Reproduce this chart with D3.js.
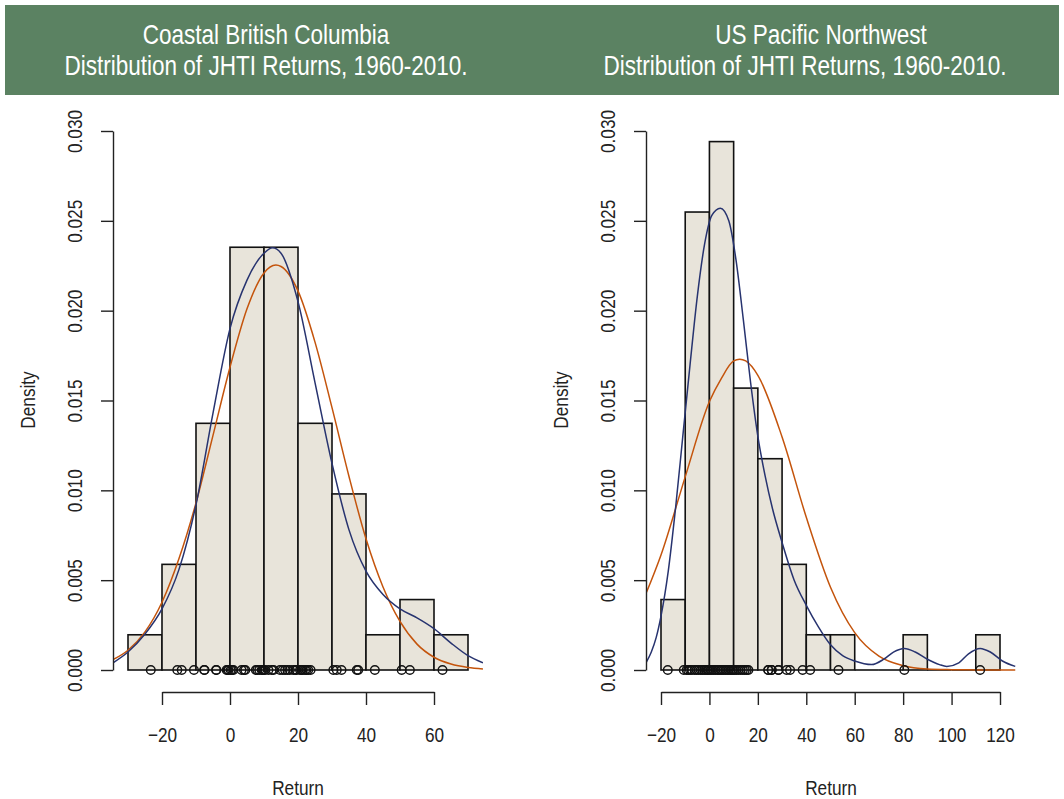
<!DOCTYPE html>
<html>
<head>
<meta charset="utf-8">
<script src="https://cdn.jsdelivr.net/npm/d3@7"></script>
<style>
  html, body { margin: 0; padding: 0; background: #ffffff; }
  svg { display: block; }
  text { font-family: "Liberation Sans", Arial, sans-serif; }
</style>
</head>
<body>
<svg id="chart" width="1064" height="799"></svg>
<script>
// ---------------- DATA ----------------
const titlesLeft = ["Coastal British Columbia", "Distribution of JHTI Returns, 1960-2010."];
const titlesRight = ["US Pacific Northwest", "Distribution of JHTI Returns, 1960-2010."];
const xLabel = "Return";
const yLabel = "Density";

const yTicks = [0, 0.005, 0.010, 0.015, 0.020, 0.025, 0.030];

// Coastal British Columbia
const bcTicks = [-20, 0, 20, 40, 60];
const bcBinEdges = [-30, -20, -10, 0, 10, 20, 30, 40, 50, 60, 70];
const bcDensity = [0.00196, 0.00588, 0.01373, 0.02353, 0.02353, 0.01373, 0.00980, 0.00196, 0.00392, 0.00196];
const bcReturns = [-23.3, -15.5, -14.2, -10.6, -7.6, -7.5, -4.1, -4.0, -1.0, -0.7, -0.4,
  0.2, 0.6, 1.0, 3.4, 4.1, 4.5, 7.6, 8.0, 8.6, 9.3, 9.6, 9.9,
  10.3, 11.3, 12.3, 12.8, 14.7, 15.5, 16.2, 16.9, 17.6, 18.6, 19.2, 19.6,
  20.6, 21.0, 21.4, 22.1, 22.5, 23.0, 23.7,
  30.4, 31.4, 32.8, 37.3, 37.7, 42.6, 50.5, 52.9, 62.5];
const bcKdeX = [-34.4, -30, -25, -20, -15, -10, -5, 0, 5, 10, 12.5, 15, 20, 25, 30, 35, 40, 45, 50, 55, 60, 65, 70, 74.4];
const bcKdeY = [0.0004, 0.0010, 0.0020, 0.0034, 0.0056, 0.0092, 0.0143, 0.0190, 0.0217, 0.0232, 0.0235, 0.0232, 0.0205, 0.0160, 0.0115, 0.0078, 0.0055, 0.0042, 0.0034, 0.0029, 0.0023, 0.0015, 0.0008, 0.0004];
const bcNormX = [-34.4, -30, -25, -20, -15, -10, -5, 0, 5, 10, 13.5, 15, 20, 25, 30, 35, 40, 45, 50, 55, 60, 65, 70, 74.4];
const bcNormY = [0.00058, 0.0011, 0.00212, 0.00377, 0.0062, 0.0093, 0.01306, 0.01685, 0.0201, 0.0221, 0.02254, 0.02246, 0.0211, 0.01825, 0.0146, 0.01077, 0.0073, 0.00462, 0.0027, 0.00144, 0.00071, 0.00033, 0.00014, 0.00006];

// US Pacific Northwest
const pnwTicks = [-20, 0, 20, 40, 60, 80, 100, 120];
const pnwBinEdges = [-20, -10, 0, 10, 20, 30, 40, 50, 60, 70, 80, 90, 100, 110, 120];
const pnwDensity = [0.00392, 0.02549, 0.02941, 0.01569, 0.01176, 0.00588, 0.00196, 0.00196, 0, 0, 0.00196, 0, 0, 0.00196];
const pnwReturns = [-17.2, -10.6,
  -9.4, -8.8, -8.0, -7.2, -6.1, -5.3, -4.5, -3.6, -3.0, -2.2, -1.5, -0.8, -0.3,
  0.4, 1.0, 1.8, 2.5, 3.3, 3.9, 4.6, 5.2, 5.9, 6.6, 7.3, 8.0, 8.7, 9.3, 9.8,
  10.5, 11.2, 12.0, 12.9, 13.8, 14.6, 15.4, 16.1,
  24.3, 24.3, 25.7, 25.7, 28.5, 28.5,
  31.9, 33.3, 38.5, 41.6, 53.3, 80.5, 111.8];
const pnwKdeX = [-26.2, -24, -22, -20, -17, -14, -11, -8, -5, -2, 1, 4.5, 8, 11, 14, 17, 20, 23, 26, 30, 35, 40, 45, 50, 55, 60, 67, 72, 76, 80.5, 85, 90, 95, 98, 103, 107, 111.8, 116, 121, 126.3];
const pnwKdeY = [0.0004, 0.0010, 0.0018, 0.0030, 0.0055, 0.0090, 0.0130, 0.0170, 0.0208, 0.0237, 0.0253, 0.0257, 0.0250, 0.0228, 0.0195, 0.0160, 0.0130, 0.0108, 0.0090, 0.0071, 0.0050, 0.0036, 0.0024, 0.0014, 0.0008, 0.0005, 0.0003, 0.0006, 0.0010, 0.0012, 0.0010, 0.0006, 0.0003, 0.0002, 0.0004, 0.0009, 0.0012, 0.0010, 0.0005, 0.0002];
const pnwNormX = [-26.2, -20, -10, 0, 5, 10, 12.5, 15, 20, 30, 40, 50, 60, 70, 80, 90, 100, 110, 126.3];
const pnwNormY = [0.00425, 0.0064, 0.01075, 0.01494, 0.01625, 0.0172, 0.0173, 0.0172, 0.0164, 0.01297, 0.0085, 0.00461, 0.00208, 0.00077, 0.00024, 0.00006, 0.00002, 0.000005, 0.0000005];

// ---------------- DRAWING ----------------
const svg = d3.select("#chart");
const GREEN = "#5b8262";
const FILL = "#e8e4da";
const BLUE = "#27336f";
const ORANGE = "#c4540c";
const TXT = "#222222";
const FONT = '"Liberation Sans", Arial, sans-serif';
const NARROW = 0.82;

// Header banner
svg.append("rect").attr("x", 5).attr("y", 5).attr("width", 1054).attr("height", 90).attr("fill", GREEN);

function drawTitle(lines, centers) {
  lines.forEach((t, i) => {
    svg.append("text")
      .attr("transform", `translate(${centers[i]},${44 + i * 31}) scale(${NARROW},1)`)
      .attr("text-anchor", "middle").attr("fill", "#ffffff")
      .attr("font-size", 27.5).text(t);
  });
}
drawTitle(titlesLeft, [266, 266]);
drawTitle(titlesRight, [821, 805]);

function panel(opts) {
  const { id, ticks, edges, dens, rug, kx, ky, nx, ny, xDomain, xRange, axisX, plotL, plotR } = opts;
  const x = d3.scaleLinear().domain(xDomain).range(xRange);
  const y = d3.scaleLinear().domain([0, 0.03]).range([670, 131]);
  const g = svg.append("g");

  const clipId = "clip-" + id;
  svg.append("clipPath").attr("id", clipId).append("rect")
    .attr("x", plotL).attr("y", 100).attr("width", plotR - plotL).attr("height", 600);

  // histogram bars
  const bins = dens.map((d, i) => ({ x0: edges[i], x1: edges[i + 1], d }));
  g.selectAll("rect.bar").data(bins.filter(b => b.d > 0)).join("rect")
    .attr("class", "bar")
    .attr("x", b => x(b.x0)).attr("y", b => y(b.d))
    .attr("width", b => x(b.x1) - x(b.x0)).attr("height", b => y(0) - y(b.d))
    .attr("fill", FILL).attr("stroke", "#111").attr("stroke-width", 1.6);
  g.selectAll("line.zbar").data(bins.filter(b => b.d === 0)).join("line")
    .attr("class", "zbar")
    .attr("x1", b => x(b.x0)).attr("x2", b => x(b.x1))
    .attr("y1", y(0)).attr("y2", y(0))
    .attr("stroke", "#111").attr("stroke-width", 1.6);

  // curves
  const line = d3.line().x(d => x(d[0])).y(d => y(d[1])).curve(d3.curveMonotoneX);
  g.append("path").datum(nx.map((v, i) => [v, ny[i]]))
    .attr("d", line).attr("fill", "none").attr("stroke", ORANGE).attr("stroke-width", 1.5)
    .attr("clip-path", `url(#${clipId})`);
  g.append("path").datum(kx.map((v, i) => [v, ky[i]]))
    .attr("d", line).attr("fill", "none").attr("stroke", BLUE).attr("stroke-width", 1.5)
    .attr("clip-path", `url(#${clipId})`);

  // rug points
  g.selectAll("circle.rug").data(rug).join("circle")
    .attr("class", "rug")
    .attr("cx", d => x(d)).attr("cy", y(0)).attr("r", 4.3)
    .attr("fill", "none").attr("stroke", "#111").attr("stroke-width", 1.4);

  // x axis
  const xa = g.append("g").attr("transform", "translate(0,692)")
    .call(d3.axisBottom(x).tickValues(ticks).tickSize(13).tickSizeOuter(0).tickFormat(d3.format("d")));
  xa.select(".domain").attr("stroke", "#222").attr("stroke-width", 1.4);
  xa.selectAll(".tick line").attr("stroke", "#222").attr("stroke-width", 1.4);
  xa.selectAll(".tick text").attr("font-size", 21).attr("fill", TXT)
    .attr("dy", 0).attr("y", 0).attr("transform", `translate(0,50) scale(${NARROW},1)`)
    .style("font-family", FONT);

  // y axis
  const ya = g.append("g").attr("transform", `translate(${axisX},0)`)
    .call(d3.axisLeft(y).tickValues(yTicks).tickSize(12).tickSizeOuter(0).tickFormat(d3.format(".3f")));
  ya.select(".domain").attr("stroke", "#222").attr("stroke-width", 1.4);
  ya.selectAll(".tick line").attr("stroke", "#222").attr("stroke-width", 1.4);
  ya.selectAll(".tick text").attr("font-size", 21).attr("fill", TXT)
    .attr("x", 0).attr("dy", 0).attr("text-anchor", "middle")
    .attr("transform", `translate(-31,0) rotate(-90) scale(${NARROW},1)`).attr("y", 0)
    .style("font-family", FONT);

  // axis titles
  svg.append("text").attr("transform", `translate(${(plotL + plotR) / 2},795) scale(${NARROW},1)`)
    .attr("text-anchor", "middle").attr("font-size", 21).attr("fill", TXT).text(xLabel);
  svg.append("text").attr("transform", `translate(${axisX - 78},400) rotate(-90) scale(${NARROW},1)`)
    .attr("text-anchor", "middle").attr("font-size", 21).attr("fill", TXT).text(yLabel);
}

panel({ id: "bc", ticks: bcTicks, edges: bcBinEdges, dens: bcDensity, rug: bcReturns,
  kx: bcKdeX, ky: bcKdeY, nx: bcNormX, ny: bcNormY,
  xDomain: [-20, 60], xRange: [162, 434], axisX: 113, plotL: 113, plotR: 483 });
panel({ id: "pnw", ticks: pnwTicks, edges: pnwBinEdges, dens: pnwDensity, rug: pnwReturns,
  kx: pnwKdeX, ky: pnwKdeY, nx: pnwNormX, ny: pnwNormY,
  xDomain: [-20, 120], xRange: [661, 1000], axisX: 646, plotL: 646, plotR: 1016 });
</script>
</body>
</html>
